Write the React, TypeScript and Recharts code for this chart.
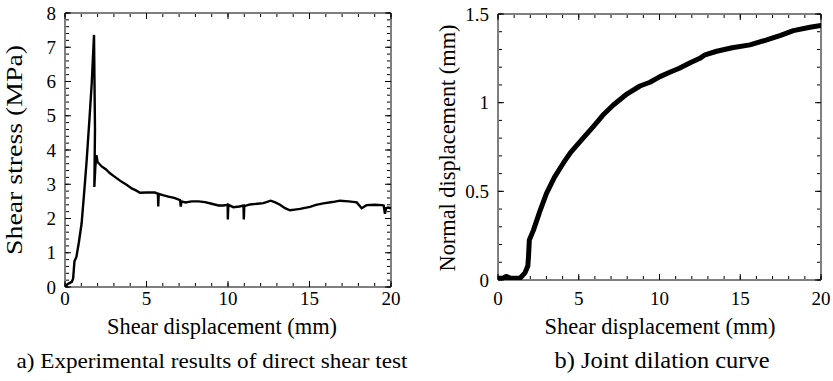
import React from 'react'
import { LineChart, Line, XAxis, YAxis, Label } from 'recharts'

// a) direct shear test: shear displacement (mm) vs shear stress (MPa)
const shearDisp = [
  0, 0.15, 0.3, 0.42, 0.5, 0.58, 0.7, 0.85, 1.02, 1.2, 1.33, 1.5, 1.64, 1.78, 1.84, 1.8, 1.86, 1.93,
  2.0, 2.25, 2.5, 2.76, 3.1, 3.48, 3.8, 4.09, 4.35, 4.6, 5.0, 5.52, 5.7, 5.72, 5.75, 6.0, 6.34, 6.7,
  7.06, 7.1, 7.15, 7.4, 7.77, 8.2, 8.59, 9.0, 9.41, 9.7, 9.98, 9.99, 10.02, 10.33, 10.7, 10.95, 10.97,
  11.0, 11.35, 11.8, 12.17, 12.62, 12.9, 13.19, 13.5, 13.8, 14.1, 14.42, 15.03, 15.4, 15.85, 16.4,
  16.87, 17.4, 17.9, 18.2, 18.5, 19.0, 19.43, 19.55, 19.63, 19.7, 19.83, 20,
]
const shearStress = [
  0, 0.08, 0.12, 0.15, 0.25, 0.75, 0.88, 1.3, 1.86, 2.9, 3.7, 4.9, 5.95, 7.36, 4.6, 2.92, 3.5, 3.85,
  3.65, 3.52, 3.44, 3.32, 3.2, 3.07, 2.98, 2.88, 2.82, 2.75, 2.76, 2.76, 2.72, 2.35, 2.72, 2.68, 2.64, 2.6,
  2.54, 2.35, 2.5, 2.47, 2.5, 2.5, 2.48, 2.43, 2.38, 2.38, 2.4, 1.97, 2.4, 2.33, 2.35, 2.38, 1.97,
  2.36, 2.41, 2.43, 2.45, 2.52, 2.47, 2.4, 2.3, 2.24, 2.26, 2.28, 2.34, 2.4, 2.44, 2.48,
  2.52, 2.5, 2.47, 2.3, 2.39, 2.4, 2.39, 2.38, 2.14, 2.3, 2.32, 2.3,
]

// b) joint dilation: shear displacement (mm) vs normal displacement (mm)
const dilDisp = [
  0, 0.3, 0.5, 0.8, 1.36, 1.67, 1.85, 1.9, 1.94, 2.19, 2.6, 3.01, 3.5, 4.05, 4.5, 5.08, 5.9, 6.5,
  7.14, 8.0, 8.79, 9.41, 10.03, 10.6, 11.23, 11.9, 12.5, 12.82, 13.54, 14.5, 15.6, 16.64, 17.5,
  18.29, 19.32, 20,
]
const dilNormal = [
  0.01, 0.01, 0.02, 0.01, 0.01, 0.04, 0.08, 0.15, 0.226, 0.28, 0.39, 0.49, 0.58, 0.66, 0.72, 0.78,
  0.865, 0.93, 0.987, 1.05, 1.094, 1.115, 1.147, 1.17, 1.194, 1.225, 1.25, 1.27, 1.29, 1.31, 1.326,
  1.354, 1.38, 1.406, 1.425, 1.435,
]

const dispTicks = [0, 5, 10, 15, 20]
const dispMinor = Array.from({ length: 21 }, (_, i) => i)
const stressTicks = [0, 1, 2, 3, 4, 5, 6, 7, 8]
const stressMinor = Array.from({ length: 41 }, (_, i) => +(i * 0.2).toFixed(1))
const normalTicks = [0, 0.5, 1, 1.5]
const normalMinor = Array.from({ length: 16 }, (_, i) => +(i * 0.1).toFixed(1))

const shearData = shearDisp.map((x, i) => ({ x, y: shearStress[i] }))
const dilData = dilDisp.map((x, i) => ({ x, y: dilNormal[i] }))

const serif = "'Liberation Serif', 'Times New Roman', serif"
const tickFont = { fontSize: 19, fill: '#000', fontFamily: serif, style: { fontFamily: serif } }

// plain svg text with a fixed length so the squeezed look of the figure is kept
const txt = (value: string, x: number, y: number, size: number, len: number, rotate = false) => () => (
  <text
    x={x}
    y={y}
    fontSize={size}
    style={{ fontFamily: serif }}
    fill="#000"
    textAnchor="middle"
    textLength={len}
    lengthAdjust="spacingAndGlyphs"
    transform={rotate ? `rotate(-90 ${x} ${y})` : undefined}
  >
    {value}
  </text>
)

const noTick = () => <g />

// inward tick marks on all four sides + frame
function frame(xd: number[], xMaj: number[], xMin: number[], yd: number[], yMaj: number[], yMin: number[]) {
  const common = { type: 'number' as const, allowDataOverflow: true, interval: 0 as const, tick: noTick, stroke: '#000' }
  return [
    <XAxis key="bM" xAxisId="bM" {...common} dataKey="x" domain={xd} ticks={xMaj} mirror height={1} tickSize={6} />,
    <XAxis key="bm" xAxisId="bm" {...common} dataKey="x" domain={xd} ticks={xMin} mirror height={1} tickSize={3} axisLine={false} />,
    <XAxis key="tM" xAxisId="tM" {...common} dataKey="x" orientation="top" domain={xd} ticks={xMaj} mirror height={1} tickSize={6} />,
    <XAxis key="tm" xAxisId="tm" {...common} dataKey="x" orientation="top" domain={xd} ticks={xMin} mirror height={1} tickSize={3} axisLine={false} />,
    <YAxis key="lM" yAxisId="lM" {...common} domain={yd} ticks={yMaj} mirror width={1} tickSize={6} />,
    <YAxis key="lm" yAxisId="lm" {...common} domain={yd} ticks={yMin} mirror width={1} tickSize={3} axisLine={false} />,
    <YAxis key="rM" yAxisId="rM" {...common} orientation="right" domain={yd} ticks={yMaj} mirror width={1} tickSize={6} />,
    <YAxis key="rm" yAxisId="rm" {...common} orientation="right" domain={yd} ticks={yMin} mirror width={1} tickSize={3} axisLine={false} />,
  ]
}

export default function App() {
  return (
    <div style={{ position: 'absolute', left: 0, top: 0, width: 833, height: 381, background: '#fff', fontFamily: serif }}>
      <div style={{ position: 'absolute', left: 0, top: 0 }}>
        <LineChart width={420} height={381} data={shearData} margin={{ top: 13, right: 29, left: 25, bottom: 34 }}>
          <XAxis
            xAxisId="lab"
            type="number"
            dataKey="x"
            domain={[0, 20]}
            ticks={dispTicks}
            interval={0}
            allowDataOverflow
            tickLine={false}
            axisLine={false}
            tickSize={0}
            tickMargin={5}
            height={60}
            tick={tickFont}
          >
            <Label content={txt('Shear displacement (mm)', 222, 334, 24, 230)} />
            <Label content={txt('a) Experimental results of direct shear test', 212, 368, 22, 391)} />
          </XAxis>
          <YAxis
            yAxisId="lab"
            type="number"
            domain={[0, 8]}
            ticks={stressTicks}
            interval={0}
            allowDataOverflow
            tickLine={false}
            axisLine={false}
            tickSize={0}
            tickMargin={9}
            width={40}
            tick={tickFont}
          >
            <Label content={txt('Shear stress (MPa)', 22, 150, 24, 210, true)} />
          </YAxis>
          {frame([0, 20], dispTicks, dispMinor, [0, 8], stressTicks, stressMinor)}
          <Line
            xAxisId="lab"
            yAxisId="lab"
            dataKey="y"
            type="linear"
            stroke="#000"
            strokeWidth={2.4}
            dot={false}
            isAnimationActive={false}
          />
        </LineChart>
      </div>
      <div style={{ position: 'absolute', left: 420, top: 0 }}>
        <LineChart width={413} height={381} data={dilData} margin={{ top: 14, right: 12, left: 38, bottom: 41 }}>
          <XAxis
            xAxisId="lab"
            type="number"
            dataKey="x"
            domain={[0, 20]}
            ticks={dispTicks}
            interval={0}
            allowDataOverflow
            tickLine={false}
            axisLine={false}
            tickSize={0}
            tickMargin={12}
            height={60}
            tick={tickFont}
          >
            <Label content={txt('Shear displacement (mm)', 240, 334, 24, 231)} />
            <Label content={txt('b) Joint dilation curve', 242, 368, 24, 215)} />
          </XAxis>
          <YAxis
            yAxisId="lab"
            type="number"
            domain={[0, 1.5]}
            ticks={normalTicks}
            interval={0}
            allowDataOverflow
            tickLine={false}
            axisLine={false}
            tickSize={0}
            tickMargin={9}
            width={40}
            tick={tickFont}
          >
            <Label content={txt('Normal displacement (mm)', 35, 148, 23, 247, true)} />
          </YAxis>
          {frame([0, 20], dispTicks, dispMinor, [0, 1.5], normalTicks, normalMinor)}
          <Line
            xAxisId="lab"
            yAxisId="lab"
            dataKey="y"
            type="linear"
            stroke="#000"
            strokeWidth={5}
            strokeLinecap="round"
            strokeLinejoin="round"
            dot={false}
            isAnimationActive={false}
          />
        </LineChart>
      </div>
    </div>
  )
}
